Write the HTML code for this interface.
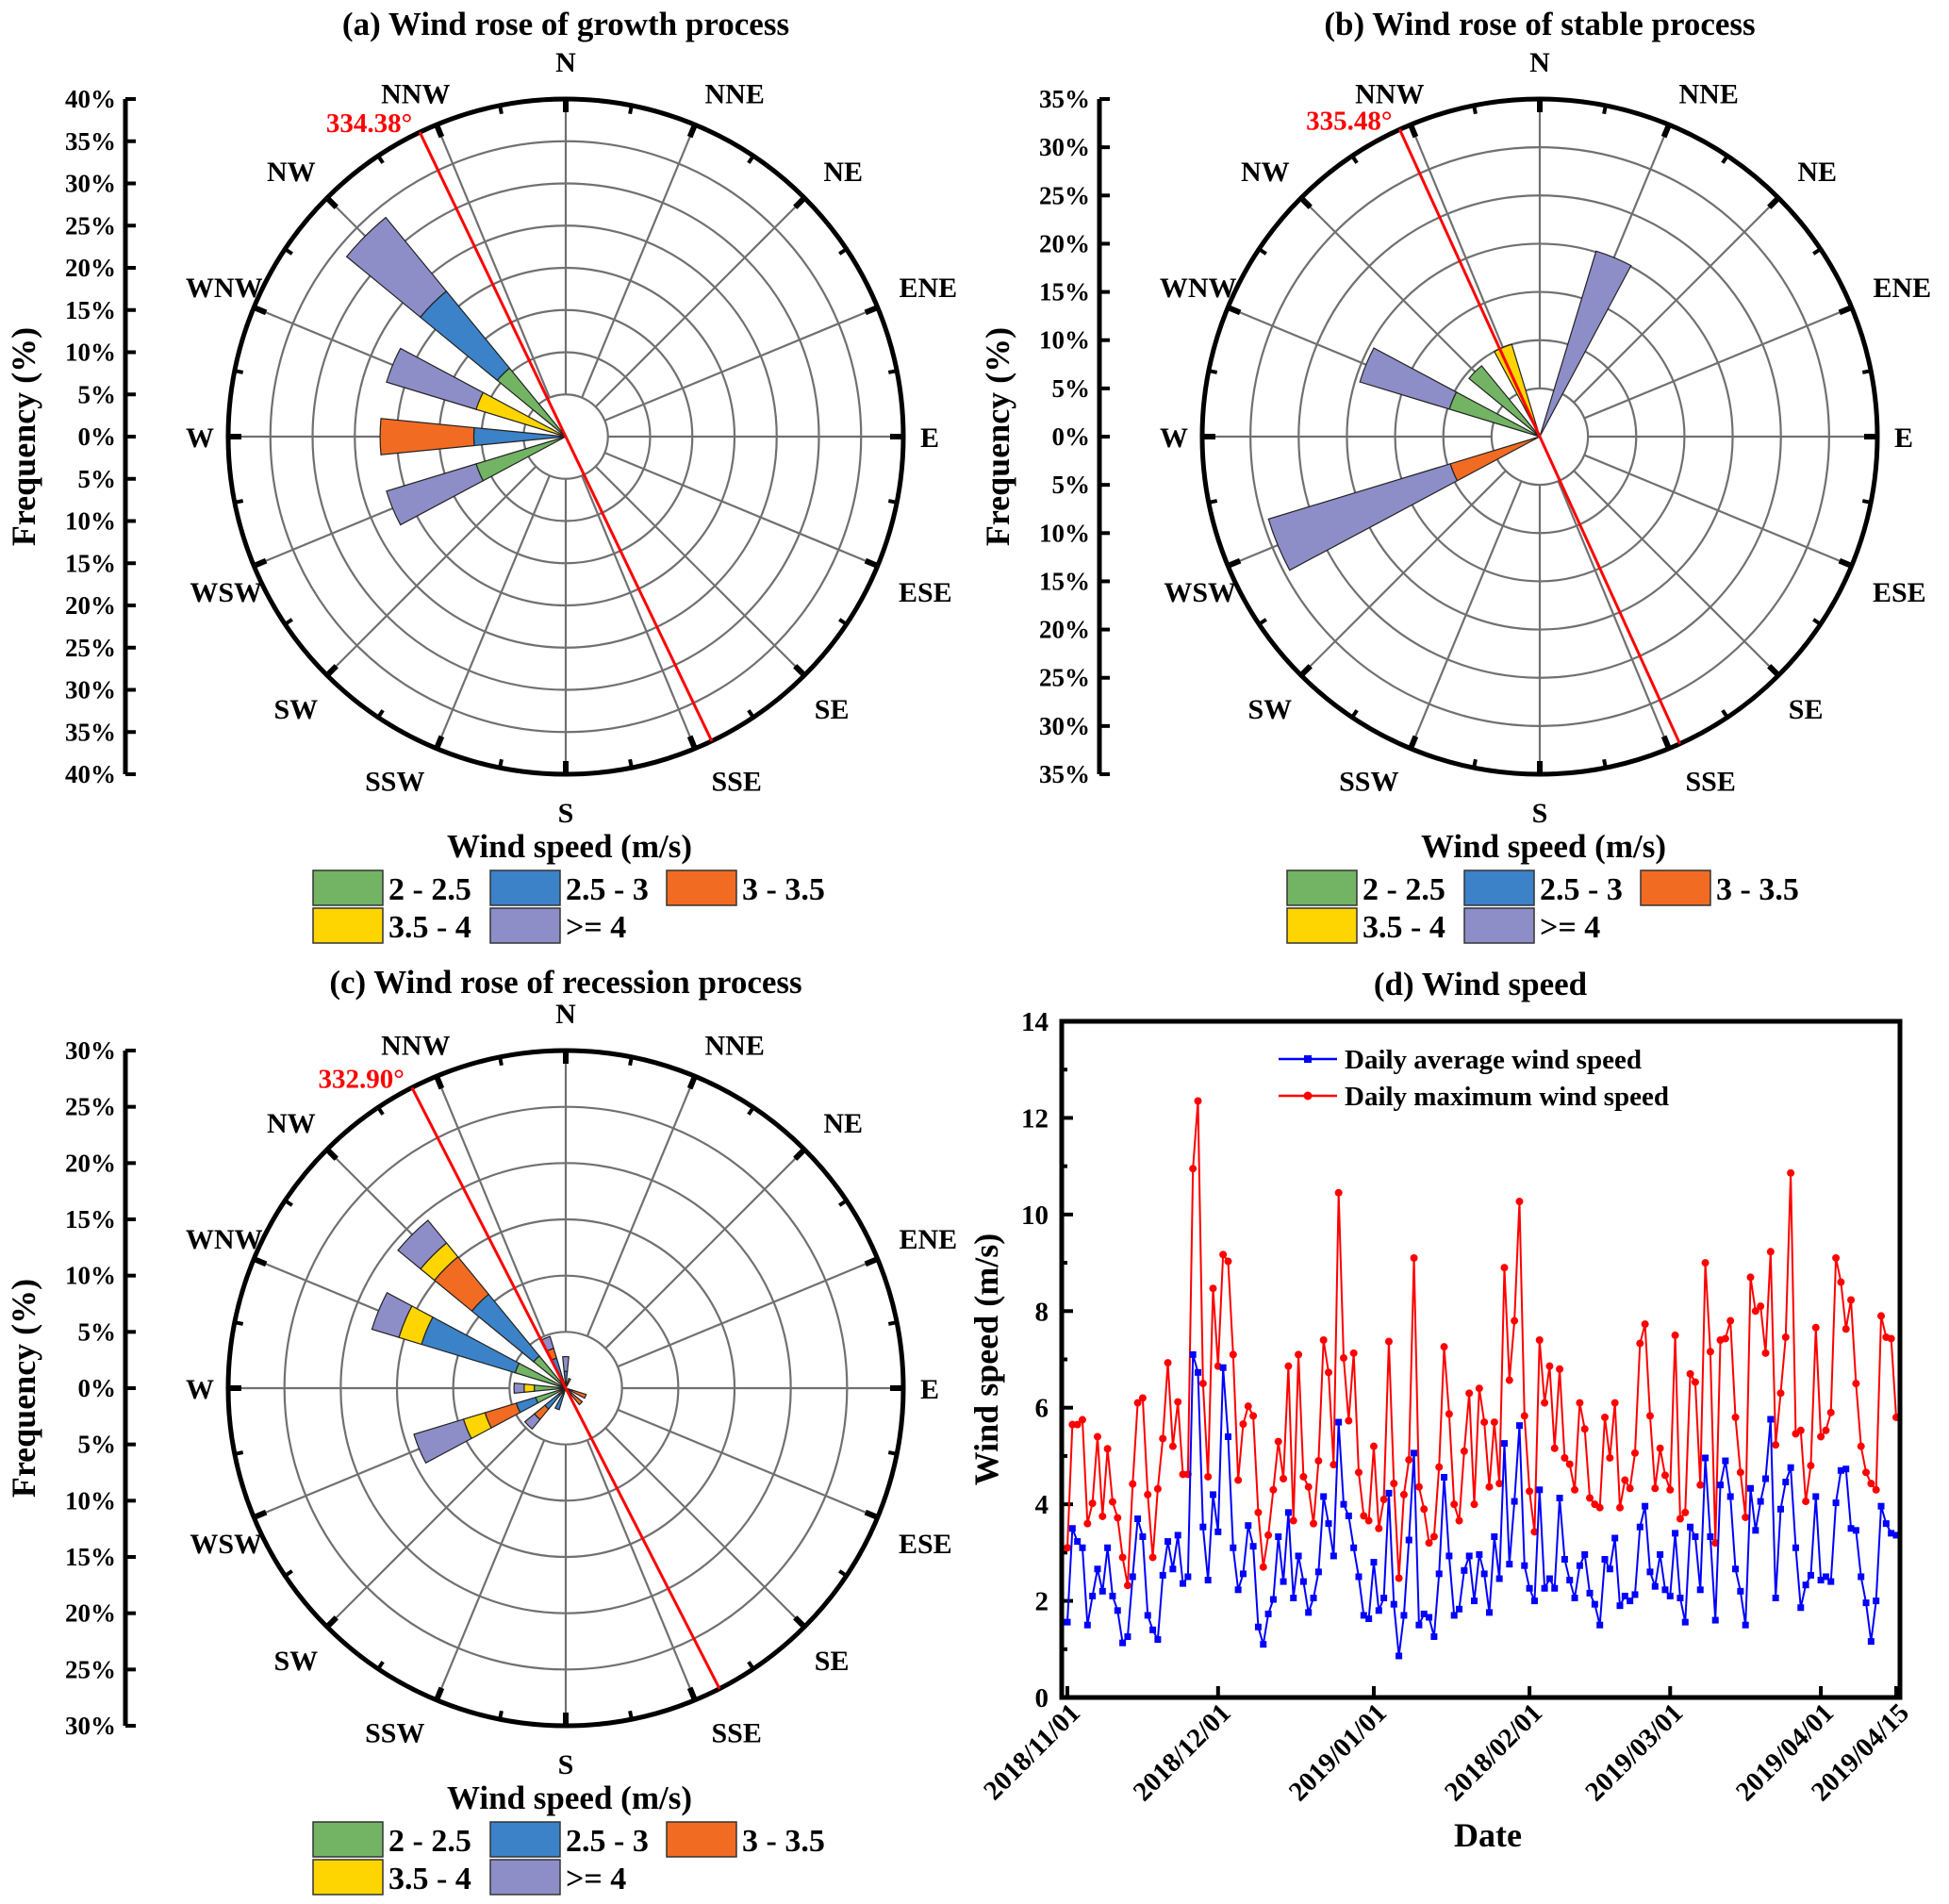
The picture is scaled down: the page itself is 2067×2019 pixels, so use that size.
<!DOCTYPE html>
<html><head><meta charset="utf-8"><style>
html,body{margin:0;padding:0;background:#fff;}
svg{display:block;font-family:"Liberation Serif",serif;font-weight:bold;}
</style></head><body>
<svg id="fig" width="2067" height="2019" viewBox="0 0 2067 2019" xmlns="http://www.w3.org/2000/svg"></svg>
<script>
// ---------- data ----------
const directions = ["N","NNE","NE","ENE","E","ESE","SE","SSE","S","SSW","SW","WSW","W","WNW","NW","NNW"];
const speedClasses = ["2 - 2.5","2.5 - 3","3 - 3.5","3.5 - 4",">= 4"];
const classColors = ["#72b464","#3b82c8","#f26b22","#ffd500","#8d8dc8"];
// panel (a) frequencies (%) per class, by direction index
const aGreen  = [0,0,0,0,0,0,0,0,0,0,0,11.1,0,0,10.5,0];
const aBlue   = [0,0,0,0,0,0,0,0,0,0,0,0,10.9,0,11.8,0];
const aOrange = [0,0,0,0,0,0,0,0,0,0,0,0,11.1,0,0,0];
const aYellow = [0,0,0,0,0,0,0,0,0,0,0,0,0,11.1,0,0];
const aPurple = [0,0,0,0,0,0,0,0,0,0,0,11.1,0,11.1,11.3,0];
// panel (b)
const bGreen  = [0,0,0,0,0,0,0,0,0,0,0,0,0,9.8,9.5,0];
const bBlue   = [0,0,0,0,0,0,0,0,0,0,0,0,0,0,0,0];
const bOrange = [0,0,0,0,0,0,0,0,0,0,0,9.7,0,0,0,0];
const bYellow = [0,0,0,0,0,0,0,0,0,0,0,0,0,0,0,10];
const bPurple = [0,20.1,0,0,0,0,0,0,0,0,0,19.7,0,9.7,0,0];
// panel (c)
const cGreen  = [0.5,0.4,0,0,0,0.6,0.7,0,0,0.6,0.8,2.8,2.8,4.7,3.7,0.8];
const cBlue   = [1.0,0,0,0,0,0,0,0,0,1.4,1.6,1.8,0,8.7,7.1,2.0];
const cOrange = [0,0.5,0,0,0,1.3,1.2,0,0,0,1.2,2.9,0,0,4.3,0.9];
const cYellow = [0,0,0,0,0,0,0,0,0,0,0,2.0,0.9,2.1,1.6,0];
const cPurple = [1.3,0,0,0,0,0,0,0,0,0,1.1,4.6,0.9,2.5,2.6,1.1];
const meanAngles = [334.38, 335.48, 332.90];
// panel (d)
const dateTicks = ["2018/11/01","2018/12/01","2019/01/01","2018/02/01","2019/03/01","2019/04/01","2019/04/15"];
const dateTickDays = [0,30,61,92,120,150,165];
const yTicks = [0,2,4,6,8,10,12,14];
const dailyMax = [3.1,5.65,5.65,5.75,3.6,4.02,5.4,3.75,5.15,4.05,3.72,2.9,2.32,4.42,6.1,6.2,4.2,2.9,4.32,5.36,6.93,5.2,6.12,4.62,4.62,10.95,12.35,6.5,4.57,8.47,6.86,9.17,9.03,7.1,4.5,5.66,6.03,5.83,3.83,2.7,3.36,4.3,5.3,4.53,6.86,3.66,7.1,4.57,4.36,3.6,4.9,7.4,6.73,4.82,10.45,7.03,5.73,7.13,4.66,3.76,3.66,5.2,3.5,4.1,7.37,4.43,2.47,4.2,4.92,9.1,4.36,3.9,3.2,3.33,4.77,7.26,5.87,4.0,3.66,5.1,6.3,4.0,6.4,5.7,4.36,5.7,4.43,8.9,6.57,7.8,10.27,5.83,4.27,3.43,7.4,6.1,6.86,5.16,6.8,4.96,4.83,4.3,6.1,5.56,4.13,4.0,3.93,5.8,4.96,6.1,3.93,4.5,4.33,5.06,7.33,7.73,5.83,4.33,5.16,4.6,4.3,7.5,3.7,3.83,6.7,6.53,4.4,9.0,7.16,3.2,7.4,7.43,7.8,5.8,4.66,3.73,8.7,8.0,8.1,7.13,9.23,5.23,6.3,7.46,10.86,5.46,5.53,4.06,4.8,7.66,5.4,5.53,5.9,9.1,8.6,7.63,8.23,6.5,5.2,4.66,4.43,4.3,7.9,7.46,7.43,5.8];
const dailyAvg = [1.56,3.5,3.23,3.1,1.5,2.1,2.66,2.2,3.1,2.1,1.8,1.13,1.26,2.5,3.7,3.33,1.7,1.4,1.2,2.53,3.23,2.66,3.36,2.36,2.5,7.1,6.73,3.53,2.43,4.2,3.43,6.83,5.4,3.1,2.23,2.56,3.56,3.13,1.46,1.1,1.73,2.03,3.33,2.4,3.83,2.06,2.93,2.4,1.76,2.06,2.6,4.16,3.6,2.93,5.7,4.0,3.76,3.1,2.5,1.7,1.63,2.8,1.8,2.06,4.23,1.93,0.86,1.7,3.26,5.06,1.5,1.73,1.66,1.26,2.56,4.56,2.93,1.7,1.83,2.63,2.93,2.0,2.96,2.56,1.76,3.33,2.46,5.26,2.76,4.06,5.63,2.73,2.26,2.0,4.3,2.26,2.46,2.26,4.13,2.86,2.43,2.06,2.73,2.96,2.16,1.93,1.5,2.86,2.66,3.3,1.9,2.1,2.0,2.13,3.53,3.96,2.6,2.3,2.96,2.23,2.1,3.4,2.06,1.56,3.53,3.33,2.23,4.96,3.33,1.6,4.4,4.9,4.16,2.66,2.2,1.5,4.33,3.46,4.06,4.53,5.76,2.06,3.9,4.46,4.76,3.1,1.86,2.33,2.53,4.16,2.43,2.5,2.4,4.03,4.7,4.73,3.5,3.46,2.5,1.96,1.16,2.0,3.96,3.6,3.4,3.36];

// ---------- helpers ----------
const NS="http://www.w3.org/2000/svg";
const svg=document.getElementById('fig');
function mk(tag,attrs,parent){const e=document.createElementNS(NS,tag);for(const k in attrs)e.setAttribute(k,attrs[k]);(parent||svg).appendChild(e);return e;}
function txt(s,x,y,size,parent,anchor,fill){const t=mk('text',{x:x,y:y,'font-size':size,'text-anchor':anchor||'middle',fill:fill||'#000'},parent);t.textContent=s;return t;}
const rad=d=>d*Math.PI/180;
const labelDX=[0,20,0,0,-12,-3,-12,22,0,-22,8,24,10,22,3,0];
const labelDY=[0,20,12,0,0,5,-6,-20,0,-20,-6,5,0,0,12,20];

function drawRose(cfg){
  const g=mk('g',{});
  
  
  const {cx,cy,R,maxP}=cfg;
  const rs=p=>p/maxP*R;
  const pt=(ang,r)=>[cx+r*Math.sin(rad(ang)),cy-r*Math.cos(rad(ang))];
  const t=txt(cfg.title,cx,cy-428+(cfg.titleDY||0),35,g);
  
  
  const nR=maxP/5;
  for(let k=1;k<nR;k++){const c=mk('circle',{cx:cx,cy:cy,r:rs(5*k),fill:'none',stroke:'#707070','stroke-width':2.2},g);
    }
  for(let i=0;i<16;i++){const a=pt(i*22.5,rs(5)),b=pt(i*22.5,R);
    const l=mk('line',{x1:a[0],y1:a[1],x2:b[0],y2:b[1],stroke:'#707070','stroke-width':2.2},g);
    }
  const series=cfg.series;
  for(let i=0;i<16;i++){
    let cum=0;
    for(let s=0;s<series.length;s++){
      const v=series[s][i]; if(!v) continue;
      const r0=rs(cum), r1=rs(cum+v); cum+=v;
      const a0=i*22.5-5.6,a1=i*22.5+5.6;
      const p1=pt(a0,r0),p2=pt(a0,r1),p3=pt(a1,r1),p4=pt(a1,r0);
      const d=`M${p1[0]},${p1[1]} L${p2[0]},${p2[1]} A${r1},${r1} 0 0 1 ${p3[0]},${p3[1]} L${p4[0]},${p4[1]} `+(r0>0?`A${r0},${r0} 0 0 0 ${p1[0]},${p1[1]}`:'')+'Z';
      const b=mk('path',{d:d,fill:classColors[s],stroke:'#222','stroke-width':1.2},g);
      
      
    }
  }
  const oc=mk('circle',{cx:cx,cy:cy,r:R,fill:'none',stroke:'#000','stroke-width':5},g);
  
  for(let i=0;i<32;i++){const major=i%2===0;const a=pt(i*11.25,R),b=pt(i*11.25,R-(major?14:9));
    mk('line',{x1:a[0],y1:a[1],x2:b[0],y2:b[1],stroke:'#000','stroke-width':major?6:4},g);}
  for(let i=0;i<16;i++){const card=i%4===0;const p=pt(i*22.5,R+(card?40:58));
    const l=txt(directions[i],p[0]+labelDX[i],p[1]+11+labelDY[i],30,g);
    }
  const ang=cfg.angle;const a=pt(ang,R),b=pt(ang+180,R);
  const rl=mk('line',{x1:a[0],y1:a[1],x2:b[0],y2:b[1],stroke:'#ff0000','stroke-width':3},g);
  
  const al=txt(cfg.angleLabel,a[0]-8,a[1],29,g,'end','#ff0000');
  
  const ax=cx-467;
  const axl=mk('line',{x1:ax,y1:cy-R,x2:ax,y2:cy+R,stroke:'#000','stroke-width':5},g);
  
  for(let k=-nR;k<=nR;k++){const y=cy+k*R/nR;
    mk('line',{x1:ax,y1:y,x2:ax+11,y2:y,stroke:'#000','stroke-width':4},g);
    const tl=txt(Math.abs(k*5)+'%',ax-10,y+9,27,g,'end');
    }
  const yl=txt('Frequency (%)',0,0,36,g);
  yl.setAttribute('transform',`translate(${cx-563},${cy}) rotate(-90)`);
  
  const lt=txt('Wind speed (m/s)',cx+4,cy+446,35,g);
  
  const pos=[[cx-268,cy+460],[cx-80,cy+460],[cx+107,cy+460],[cx-268,cy+500],[cx-80,cy+500]];
  for(let s=0;s<5;s++){
    const e=mk('g',{},g);
    
    mk('rect',{x:pos[s][0],y:pos[s][1],width:74,height:37,fill:classColors[s],stroke:'#333','stroke-width':1.5},e);
    txt(speedClasses[s],pos[s][0]+80,pos[s][1]+31,34,e,'start');
  }
}
drawRose({name:'wind-rose-growth',title:'(a) Wind rose of growth process',cx:600,cy:463,R:358,maxP:40,series:[aGreen,aBlue,aOrange,aYellow,aPurple],angle:meanAngles[0],angleLabel:'334.38°',titleDY:2});
drawRose({name:'wind-rose-stable',title:'(b) Wind rose of stable process',cx:1633,cy:463,R:358,maxP:35,series:[bGreen,bBlue,bOrange,bYellow,bPurple],angle:meanAngles[1],angleLabel:'335.48°',titleDY:2});
drawRose({name:'wind-rose-recession',title:'(c) Wind rose of recession process',cx:600,cy:1472,R:358,maxP:30,series:[cGreen,cBlue,cOrange,cYellow,cPurple],angle:meanAngles[2],angleLabel:'332.90°',titleDY:9});

// ---------- panel d ----------
(function(){
  const L=1126,R=2015,T=1083,B=1800;
  const x0=1132,x1=2011;
  const xs=d=>x0+(x1-x0)*d/165;
  const ys=v=>B-(B-T)*v/14;
  const g=mk('g',{});
  
  const t=txt('(d) Wind speed',1570,1055,35,g);
  
  for(let v=0;v<=14;v++){const y=ys(v);mk('line',{x1:L,y1:y,x2:L+(v%2?6:12),y2:y,stroke:'#000','stroke-width':4},g);}
  yTicks.forEach(v=>{const l=txt(String(v),L-14,ys(v)+10,29,g,'end');
    });
  dateTickDays.forEach((d,i)=>{const x=xs(d);mk('line',{x1:x,y1:B,x2:x,y2:B-12,stroke:'#000','stroke-width':4},g);
    const l=txt(dateTicks[i],0,0,29,g,'end');
    l.setAttribute('transform',`translate(${x+15},${B+18}) rotate(-45)`);
    });
  const yl=txt('Wind speed (m/s)',0,0,36,g);
  yl.setAttribute('transform',`translate(1058,${(T+B)/2}) rotate(-90)`);
  
  const xl=txt('Date',1578,1958,36,g);
  
  function series(vals,color,marker,name){
    const sg=mk('g',{},g);
    
    const n=vals.length;
    const pts=vals.map((v,i)=>[xs(i*165/(n-1)),ys(v)]);
    mk('polyline',{points:pts.map(p=>p.join(',')).join(' '),fill:'none',stroke:color,'stroke-width':2},sg);
    pts.forEach(p=>{
      if(marker==='sq') mk('rect',{x:p[0]-3.5,y:p[1]-3.5,width:7,height:7,fill:color},sg);
      else mk('circle',{cx:p[0],cy:p[1],r:4,fill:color},sg);
    });
  }
  series(dailyMax,'#ff0000','ci','daily-maximum-series');
  series(dailyAvg,'#0000ff','sq','daily-average-series');
  const fr=mk('rect',{x:L,y:T,width:R-L,height:B-T,fill:'none',stroke:'#000','stroke-width':5},g);
  
  const le1=mk('g',{},g);
  mk('line',{x1:1356,y1:1123,x2:1418,y2:1123,stroke:'#0000ff','stroke-width':2.5},le1);
  mk('rect',{x:1383,y:1119,width:8,height:8,fill:'#0000ff'},le1);
  txt('Daily average wind speed',1426,1133,29,le1,'start');
  const le2=mk('g',{},g);
  mk('line',{x1:1356,y1:1162,x2:1418,y2:1162,stroke:'#ff0000','stroke-width':2.5},le2);
  mk('circle',{cx:1387,cy:1162,r:4.5,fill:'#ff0000'},le2);
  txt('Daily maximum wind speed',1426,1172,29,le2,'start');
})();
</script>
</body></html>
